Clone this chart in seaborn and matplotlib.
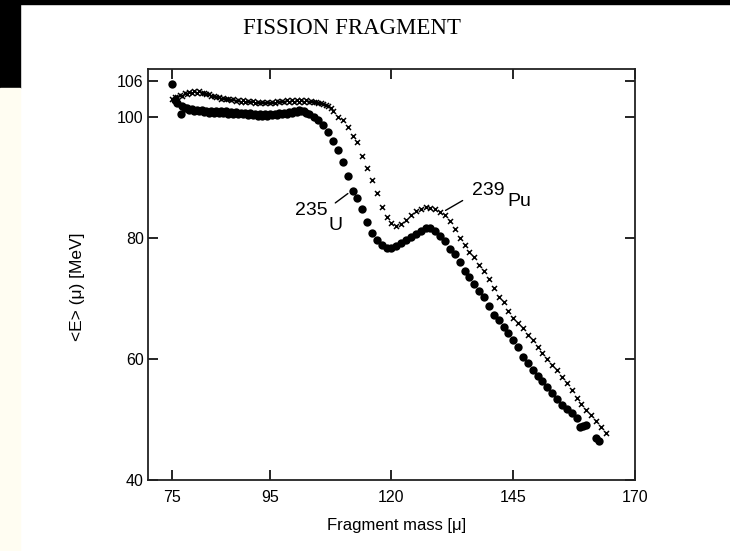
import matplotlib
matplotlib.use("Agg")
import matplotlib.pyplot as plt
import seaborn as sns
import pandas as pd
from matplotlib.patches import Rectangle

# Mean total kinetic energy of fission fragments vs. fragment mass
u_mass = [75.0, 75.5, 76.0, 76.7, 77, 77.5, 78, 78.5, 79, 79.5, 80, 80.5, 81, 81.5,
          82, 82.5, 83, 83.5, 84, 84.5, 85, 85.5, 86, 86.5, 87, 87.5, 88, 88.5,
          89, 89.5, 90, 90.5, 91, 91.5, 92, 92.5, 93, 93.5, 94, 94.5, 95, 95.5,
          96, 96.5, 97, 97.5, 98, 98.5, 99, 99.5, 100, 100.5, 101, 101.5, 102,
          102.5, 103, 104, 105, 106, 107, 108, 109, 110, 111, 112, 113, 114, 115,
          116, 117, 118, 119, 120, 121, 122, 123, 124, 125, 126, 127, 128, 129,
          130, 131, 132, 133, 134, 135, 136, 137, 138, 139, 140, 141, 142, 143,
          144, 145, 146, 147, 148, 149, 150, 151, 152, 153, 154, 155, 156, 157,
          158, 158.7, 159.3, 160, 162, 162.7]
u_energy = [105.5, 102.8, 102.3, 100.5, 101.8, 101.4, 101.5, 101.2, 101.3, 101.0,
            101.2, 100.9, 101.1, 100.8, 101.0, 100.7, 101.0, 100.7, 100.9, 100.6,
            100.9, 100.6, 100.9, 100.5, 100.8, 100.5, 100.8, 100.4, 100.7, 100.4,
            100.6, 100.3, 100.6, 100.3, 100.5, 100.2, 100.5, 100.2, 100.5, 100.2,
            100.5, 100.3, 100.5, 100.3, 100.6, 100.4, 100.7, 100.5, 100.8, 100.6,
            100.9, 100.8, 101.1, 100.9, 101.0, 100.6, 100.5, 100.0, 99.5, 98.6,
            97.5, 96.0, 94.5, 92.6, 90.3, 87.8, 86.6, 84.8, 82.7, 80.8, 79.6, 78.8,
            78.4, 78.4, 78.6, 79.1, 79.6, 80.1, 80.7, 81.2, 81.6, 81.6, 81.1, 80.3,
            79.5, 78.2, 77.3, 76.0, 74.6, 73.5, 72.3, 71.2, 70.3, 68.7, 67.3, 66.4,
            65.3, 64.3, 63.1, 62.0, 60.4, 59.4, 58.2, 57.2, 56.3, 55.3, 54.3, 53.4,
            52.4, 51.8, 51.0, 50.2, 48.8, 48.9, 49.1, 47.0, 46.4]

pu_mass = [75, 75.5, 76, 76.5, 77, 77.5, 78, 78.5, 79, 79.5, 80, 80.5, 81, 81.5, 82,
           82.5, 83, 83.5, 84, 84.5, 85, 85.5, 86, 86.5, 87, 87.5, 88, 88.5, 89,
           89.5, 90, 90.5, 91, 91.5, 92, 92.5, 93, 93.5, 94, 94.5, 95, 95.5, 96,
           96.5, 97, 97.5, 98, 98.5, 99, 99.5, 100, 100.5, 101, 101.5, 102, 102.5,
           103, 103.5, 104, 104.5, 105, 105.5, 106, 106.5, 107, 107.5, 108, 109,
           110, 111, 112, 113, 114, 115, 116, 117, 118, 119, 120, 121, 122, 123,
           124, 125, 126, 127, 128, 129, 130, 131, 132, 133, 134, 135, 136, 137,
           138, 139, 140, 141, 142, 143, 144, 145, 146, 147, 148, 149, 150, 151,
           152, 153, 154, 155, 156, 157, 158, 159, 160, 161, 162, 163, 164]
pu_energy = [103.0, 103.2, 103.3, 103.6, 103.5, 103.9, 103.8, 104.1, 104.0, 104.2,
             104.0, 104.2, 103.9, 104.0, 103.7, 103.8, 103.5, 103.5, 103.2, 103.3,
             103.0, 103.1, 102.9, 103.0, 102.7, 102.9, 102.6, 102.8, 102.5, 102.7,
             102.4, 102.6, 102.4, 102.6, 102.3, 102.5, 102.3, 102.5, 102.3, 102.5,
             102.3, 102.5, 102.3, 102.6, 102.4, 102.6, 102.4, 102.7, 102.5, 102.7,
             102.5, 102.8, 102.5, 102.8, 102.5, 102.7, 102.5, 102.6, 102.4, 102.5,
             102.3, 102.3, 102.1, 102.0, 101.8, 101.5, 101.0, 100.0, 99.4, 98.3,
             96.9, 95.8, 93.5, 91.5, 89.6, 87.4, 85.1, 83.5, 82.4, 82.0, 82.3, 82.9,
             83.8, 84.4, 84.8, 85.1, 85.0, 84.7, 84.2, 83.7, 82.8, 81.5, 80.0, 78.8,
             77.7, 76.8, 75.6, 74.6, 73.2, 71.8, 70.3, 69.4, 68.0, 66.8, 66.0, 65.1,
             64.0, 63.1, 62.0, 61.0, 60.0, 59.0, 58.2, 57.0, 56.0, 54.9, 53.6, 52.5,
             51.5, 50.8, 49.8, 48.7, 47.8]

x_ticks = [75, 95, 120, 145, 170]
y_ticks = [40, 60, 80, 100, 106]

u_df = pd.DataFrame({"mass": u_mass, "energy": u_energy})
pu_df = pd.DataFrame({"mass": pu_mass, "energy": pu_energy})

sns.set_style("ticks")
plt.rcParams["font.family"] = ["Liberation Sans", "DejaVu Sans"]
plt.rcParams["axes.linewidth"] = 1.3
plt.rcParams["text.color"] = "black"
plt.rcParams["axes.labelcolor"] = "black"

fig = plt.figure(figsize=(7.30, 5.51), dpi=100)
ax = fig.add_axes([148 / 730, 1 - 480 / 551, 487 / 730, 411 / 551])

sns.scatterplot(data=u_df, x="mass", y="energy", ax=ax, marker="o", s=36,
                color="black", edgecolor="black", linewidth=0, zorder=3)
sns.scatterplot(data=pu_df, x="mass", y="energy", ax=ax, marker="x", s=13,
                color="black", linewidth=1.1, zorder=4)

ax.set_xlim(70, 170)
ax.set_ylim(40, 107.9)
ax.set_xticks(x_ticks)
ax.set_yticks(y_ticks)
ax.tick_params(direction="in", length=7, width=1.2, top=True, right=True,
               labelsize=11.5, colors="black")
ax.tick_params(axis="x", pad=7)
ax.tick_params(axis="y", pad=3)
for s in ax.spines.values():
    s.set_color("#222222")

ax.set_xlabel("Fragment mass [\u03bc]", fontsize=12)
ax.set_ylabel("<E> (\u03bc) [MeV]", fontsize=12.5)
ax.xaxis.set_label_coords(0.51, -0.092)
ax.yaxis.set_label_coords(-0.13, 0.47)

# isotope labels with leader lines
ax.annotate("", xy=(111.5, 87.6), xytext=(108.0, 85.5),
            arrowprops=dict(arrowstyle="-", color="black", lw=1.0))
ax.text(106.8, 84.5, "235", fontsize=14, ha="right", va="center")
ax.text(108.4, 82.1, "U", fontsize=14, ha="center", va="center")
ax.annotate("", xy=(130.6, 84.3), xytext=(135.1, 86.4),
            arrowprops=dict(arrowstyle="-", color="black", lw=1.0))
ax.text(136.5, 87.9, "239", fontsize=14, ha="left", va="center")
ax.text(143.7, 86.0, "Pu", fontsize=14, ha="left", va="center")

fig.text(352 / 730, 1 - 28 / 551, "FISSION FRAGMENT", fontsize=16.5,
         family="Liberation Serif", ha="center", va="center", color="black")

# scanner edge at the top and left of the page
fig.patches.append(Rectangle((0, 1 - 4 / 551), 1, 4 / 551, transform=fig.transFigure,
                             color="black", zorder=0))
fig.patches.append(Rectangle((0, 1 - 88 / 551), 20 / 730, 88 / 551,
                             transform=fig.transFigure, color="black", zorder=0))
fig.patches.append(Rectangle((0, 0), 20 / 730, 1 - 88 / 551,
                             transform=fig.transFigure, color="#fffdf2", zorder=0))

fig.savefig("out.png", dpi=100)
